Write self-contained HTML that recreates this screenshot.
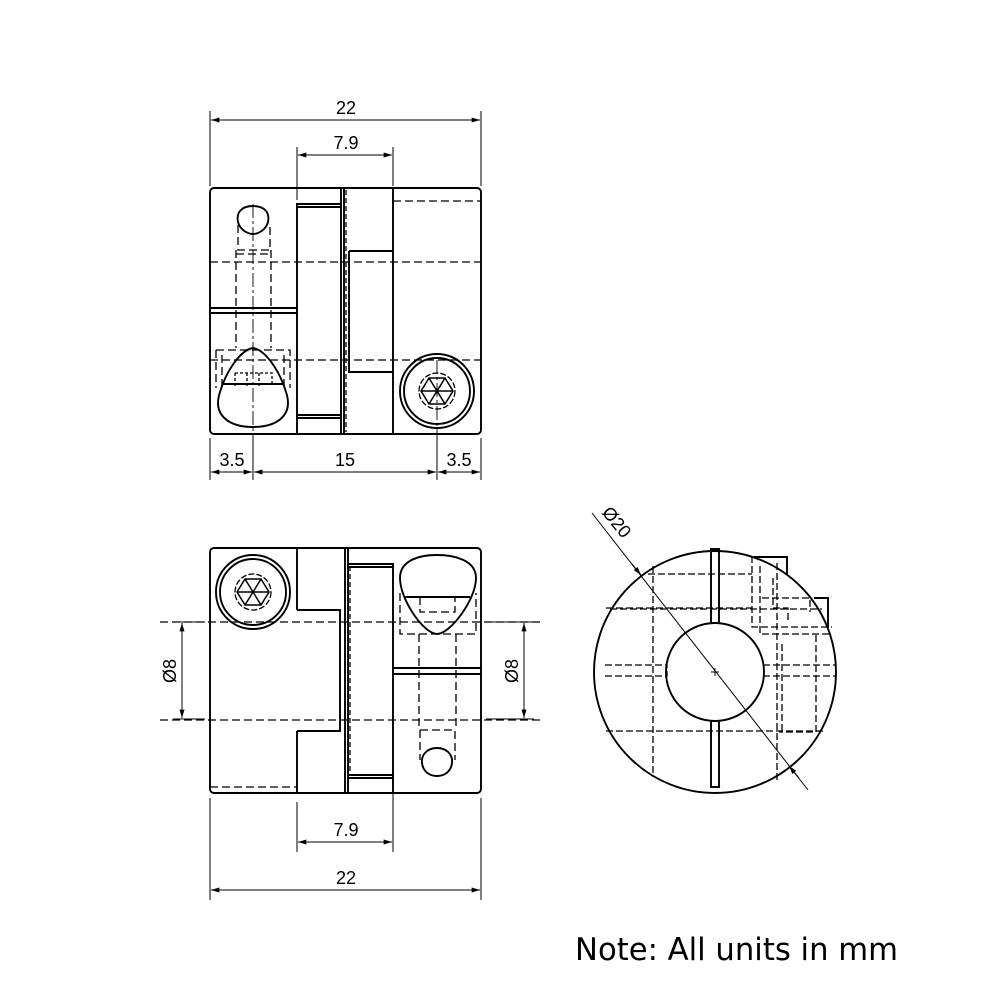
<!DOCTYPE html>
<html><head><meta charset="utf-8"><style>html,body{margin:0;padding:0;background:#fff}svg{display:block}</style></head>
<body>
<svg width="1000" height="1000" viewBox="0 0 1000 1000" xmlns="http://www.w3.org/2000/svg" font-family="Liberation Sans, sans-serif">
<defs>
<marker id="a" viewBox="0 0 10 6" refX="10" refY="3" markerWidth="13" markerHeight="5" orient="auto-start-reverse" markerUnits="userSpaceOnUse"><path d="M0,0L10,3L0,6z" fill="#000"/></marker>
</defs>
<rect width="1000" height="1000" fill="#fff"/>
<g fill="none" stroke="#000" stroke-width="1">
<line x1="210" y1="111" x2="210" y2="186"/><line x1="481" y1="111" x2="481" y2="186"/>
<line x1="211" y1="120" x2="480" y2="120" marker-start="url(#a)" marker-end="url(#a)"/>
<line x1="297" y1="147" x2="297" y2="200"/><line x1="393" y1="147" x2="393" y2="186"/>
<line x1="298" y1="155" x2="392" y2="155" marker-start="url(#a)" marker-end="url(#a)"/>
<line x1="210" y1="438" x2="210" y2="480"/><line x1="253" y1="436" x2="253" y2="480"/><line x1="437" y1="436" x2="437" y2="480"/><line x1="481" y1="438" x2="481" y2="480"/>
<line x1="211" y1="472" x2="252" y2="472" marker-start="url(#a)" marker-end="url(#a)"/>
<line x1="254" y1="472" x2="436" y2="472" marker-start="url(#a)" marker-end="url(#a)"/>
<line x1="438" y1="472" x2="480" y2="472" marker-start="url(#a)" marker-end="url(#a)"/>
<line x1="297" y1="802" x2="297" y2="852"/><line x1="393" y1="790" x2="393" y2="852"/>
<line x1="298" y1="842" x2="392" y2="842" marker-start="url(#a)" marker-end="url(#a)"/>
<line x1="210" y1="798" x2="210" y2="900"/><line x1="481" y1="798" x2="481" y2="900"/>
<line x1="211" y1="890" x2="480" y2="890" marker-start="url(#a)" marker-end="url(#a)"/>
<line x1="173" y1="622" x2="205" y2="622"/><line x1="173" y1="719" x2="205" y2="719"/>
<line x1="182" y1="623" x2="182" y2="718" marker-start="url(#a)" marker-end="url(#a)"/>
<line x1="486" y1="622" x2="534" y2="622"/><line x1="486" y1="719" x2="534" y2="719"/>
<line x1="524" y1="623" x2="524" y2="718" marker-start="url(#a)" marker-end="url(#a)"/>
</g>
<g font-size="18" fill="#000" text-anchor="middle">
<text x="346" y="114">22</text><text x="346" y="149">7.9</text>
<text x="232" y="466">3.5</text><text x="345" y="466">15</text><text x="459" y="466">3.5</text>
<text x="346" y="836">7.9</text><text x="346" y="884">22</text>
<text transform="translate(176,671) rotate(-90)">Ø8</text>
<text transform="translate(518,671) rotate(-90)">Ø8</text>
<text transform="translate(612,526) rotate(51)">Ø20</text>
</g>
<!-- TOP VIEW -->
<g fill="none" stroke="#000" stroke-width="1.9">
<rect x="210" y="188" width="271" height="246" rx="4"/>
<line x1="341" y1="188" x2="341" y2="434"/><line x1="344" y1="188" x2="344" y2="434"/>
<line x1="393" y1="188" x2="393" y2="434"/>
<path d="M297,434 V204 H341 M297,207 H341 M297,415 H341 M297,418 H341"/>
<path d="M349,251 H393 M349,251 V372 H393"/>
<line x1="210" y1="308" x2="297" y2="308"/><line x1="210" y1="313" x2="297" y2="313"/>
<path d="M253,206 C242,206 236,212 238,222 C240,230 248,234 253,234 C258,234 266,230 268,222 C270,212 264,206 253,206Z"/>
<path d="M253,348 C240,350 226,372 220,392 C212,416 230,427 253,427 C276,427 294,416 286,392 C280,372 266,350 253,348Z"/>
<line x1="222" y1="384" x2="284" y2="384"/>
<circle cx="437" cy="391" r="37"/><circle cx="437" cy="391" r="33"/>
<path d="M429,378 H445 L453,391 L445,404 H429 L421,391Z M429,378 L445,404 M445,378 L429,404 M421,391 H453" stroke-width="1.5"/>
</g>
<g fill="none" stroke="#000" stroke-width="1.3" stroke-dasharray="8,4">
<line x1="210" y1="262" x2="481" y2="262"/><line x1="210" y1="360" x2="481" y2="360"/>
<line x1="393" y1="201" x2="481" y2="201"/>
<path d="M238,225 V250 H270 V225 M236,250 V348 M271,250 V348 M236,254 H270"/>
<path d="M216,350 H290 V388 M216,350 V388 M222,355 V388 M284,355 V388"/>
<path d="M235,373 H272 V386 M235,373 V386 M247,373 V386 M259,373 V386" stroke-dasharray="3,2"/>
<line x1="346" y1="190" x2="346" y2="432" stroke-dasharray="5,3"/>
<circle cx="437" cy="391" r="18" stroke-dasharray="6,2"/>
</g>
<g stroke="#000" stroke-width="0.9" fill="none" stroke-dasharray="14,3,3,3">
<line x1="253" y1="204" x2="253" y2="445"/><line x1="437" y1="360" x2="437" y2="445"/>
<line x1="297" y1="188" x2="297" y2="200"/>
</g>
<!-- BOTTOM VIEW -->
<g fill="none" stroke="#000" stroke-width="1.9">
<rect x="210" y="548" width="271" height="245" rx="4"/>
<line x1="345" y1="548" x2="345" y2="793"/><line x1="348" y1="548" x2="348" y2="793"/>
<line x1="297" y1="548" x2="297" y2="610"/><line x1="297" y1="731" x2="297" y2="793"/>
<path d="M297,610 H340 V731 H297"/>
<path d="M393,793 V564 H348 M348,567 H393 M348,775 H393 M348,778 H393"/>
<line x1="393" y1="668" x2="481" y2="668"/><line x1="393" y1="674" x2="481" y2="674"/>
<path d="M437,555 C420,555 400,560 400,578 C400,600 424,634 437,634 C450,634 476,600 476,578 C476,560 454,555 437,555Z"/>
<line x1="404" y1="597" x2="470" y2="597"/>
<path d="M437,748 C428,748 421,754 422,763 C423,772 430,776 437,776 C444,776 451,772 452,763 C453,754 446,748 437,748Z"/>
<circle cx="253" cy="592" r="37"/><circle cx="253" cy="592" r="33"/>
<path d="M245,579 H261 L269,592 L261,605 H245 L237,592Z M245,579 L261,605 M261,579 L245,605 M237,592 H269" stroke-width="1.5"/>
</g>
<g fill="none" stroke="#000" stroke-width="1.3" stroke-dasharray="8,4">
<line x1="160" y1="622" x2="540" y2="622"/><line x1="160" y1="720" x2="540" y2="720"/>
<line x1="210" y1="787" x2="297" y2="787"/>
<path d="M400,593 V634 H476 V593 M420,597 V612 H455 V597" />
<path d="M419,634 V730 M456,634 V730 M420,730 H455 V760 M420,730 V760"/>
<line x1="350" y1="566" x2="350" y2="776" stroke-dasharray="5,3"/>
<circle cx="253" cy="592" r="18" stroke-dasharray="6,2"/>
</g>
<g stroke="#000" stroke-width="0.9" fill="none">
<line x1="393" y1="780" x2="393" y2="795"/>
</g>
<!-- CIRCLE VIEW -->
<g fill="none" stroke="#000" stroke-width="1.9">
<circle cx="715" cy="672" r="121"/>
<circle cx="715" cy="672" r="49"/>
<rect x="711" y="549" width="8" height="74"/><rect x="711" y="721" width="8" height="66"/>
<path d="M754,557 H787 V574 M814,598 H828 V628"/>
</g>
<g fill="none" stroke="#000" stroke-width="1.3" stroke-dasharray="7,3">
<line x1="610" y1="609" x2="822" y2="609"/><line x1="606" y1="731" x2="826" y2="731"/>
<line x1="653" y1="566" x2="653" y2="777"/><line x1="777" y1="563" x2="777" y2="781"/>
<path d="M648,574 H752 M606,608 H752 M605,665 H667 M605,676 H667 V665 M763,665 H836 M763,676 H836"/>
<path d="M752,556 V627 H832 M760,566 V634 H829 M773,578 V608 H788 V620 M762,598 H810 V612 M816,635 V732 H779 M782,644 V732"/>
</g>
<g stroke="#000" stroke-width="1" fill="none">
<line x1="592" y1="513" x2="808" y2="790"/>
<line x1="632" y1="564" x2="641" y2="575" marker-end="url(#a)"/>
<line x1="799" y1="778" x2="789" y2="766" marker-end="url(#a)"/>
<path d="M711,672 H719 M715,668 V676"/>
</g>
<text x="575" y="960" font-family="DejaVu Sans, Liberation Sans, sans-serif" font-size="31" textLength="323" lengthAdjust="spacingAndGlyphs" fill="#000">Note: All units in mm</text>
</svg>
</body></html>
